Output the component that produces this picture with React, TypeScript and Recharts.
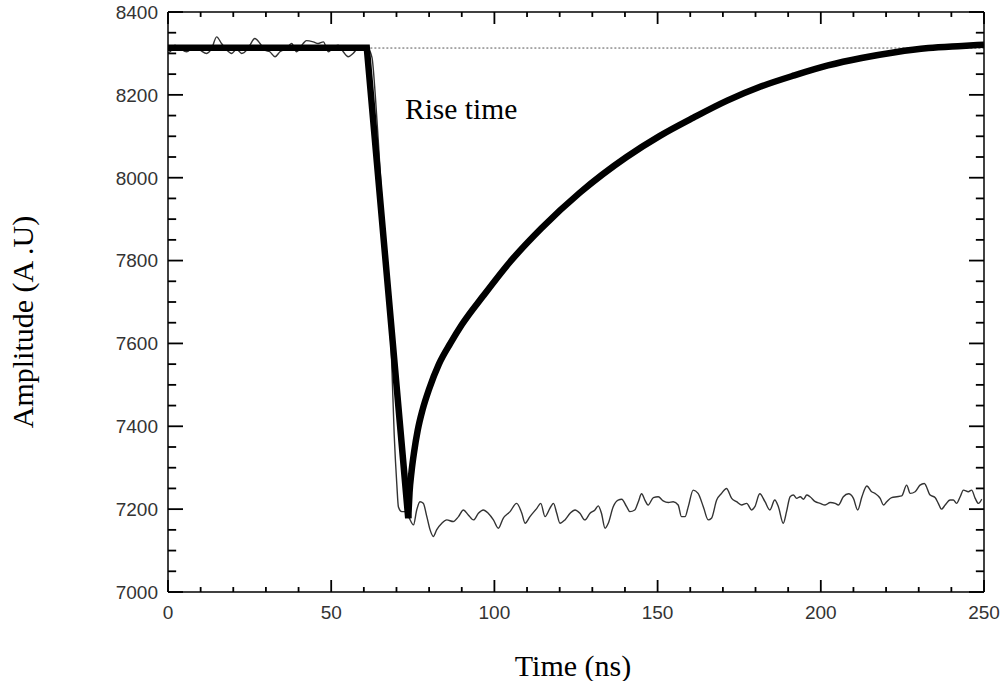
import React from "react";
import { LineChart, Line, XAxis, YAxis, ReferenceLine } from "recharts";

// measured trace (ns, A.U)
const sigTimes = [
  0, 1.1, 2.1, 3.7, 5.7, 7.8, 9.8, 11.8, 13.4, 14.9, 16.4, 18, 19.5, 21, 22.6, 24.1, 25.1, 26.6, 28.2, 29.7,
  31.2, 32.8, 34.3, 36.3, 37.9, 39.4, 41.4, 42.4, 44.5, 46, 47.6, 49.1, 50.6, 52.1, 53.7, 55.2, 56.7, 58.3, 59.8, 61.3,
  62.5, 63.5, 64.5, 65.5, 66.5, 67.5, 68.5, 69.3, 70.1, 70.6, 71.6, 72.6, 73.8, 75.2, 76.2, 77.2, 78.2, 79.3, 80.3, 81.3,
  82.3, 83.9, 85.4, 87.4, 89, 90.5, 92, 93.6, 95.1, 96.6, 98.1, 99.7, 101.2, 102.7, 104.8, 106.8, 108.4, 109.4, 110.9, 113,
  114.2, 115.5, 117, 118.1, 119.1, 120.1, 121.6, 123.2, 124.7, 126.2, 127.7, 129.3, 130.8, 131.8, 132.8, 133.9, 134.9, 136.4, 137.9, 139,
  140.5, 141.5, 143, 144.1, 145.1, 146.1, 147.1, 148.7, 150.2, 151.7, 153.3, 154.8, 156.3, 157.3, 158.4, 159.4, 160.9, 162.4, 164, 165.5,
  166.5, 168.1, 169.6, 171.1, 172.7, 174.2, 175.7, 177.3, 178.8, 179.8, 181.3, 182.9, 184.4, 185.9, 187, 188.5, 189.5, 190.6, 191.6, 192.6,
  193.7, 194.7, 195.7, 196.7, 198.3, 199.8, 201.3, 202.9, 204.4, 205.4, 206.9, 208.5, 210, 211.3, 212.6, 214.1, 215.6, 216.6, 218.2, 219.2,
  220.2, 221.7, 223.3, 224.8, 226.3, 227.4, 228.9, 230.4, 231.7, 233.5, 235, 236, 237, 238.1, 239.6, 240.6, 241.6, 242.7, 243.7, 245.2,
  246.2, 247.3, 248.3, 249.3,
];
const sigValues = [
  8300, 8308, 8320, 8312, 8304, 8314, 8308, 8300, 8312, 8340, 8324, 8308, 8300, 8310, 8300, 8308, 8320, 8336, 8324, 8308,
  8304, 8292, 8304, 8312, 8324, 8304, 8324, 8331, 8328, 8324, 8328, 8304, 8314, 8320, 8304, 8292, 8300, 8314, 8318, 8312,
  8290, 8200, 8080, 7950, 7830, 7700, 7560, 7380, 7260, 7205, 7194, 7194, 7180, 7162, 7198, 7218, 7214, 7182, 7150, 7134,
  7150, 7166, 7174, 7170, 7182, 7198, 7186, 7174, 7190, 7198, 7190, 7174, 7154, 7178, 7194, 7214, 7190, 7166, 7182, 7202,
  7214, 7182, 7202, 7214, 7190, 7166, 7174, 7190, 7198, 7190, 7174, 7190, 7198, 7208, 7190, 7154, 7166, 7206, 7222, 7224,
  7206, 7194, 7198, 7218, 7237, 7222, 7210, 7228, 7230, 7220, 7216, 7218, 7210, 7182, 7182, 7206, 7246, 7238, 7206, 7174,
  7178, 7222, 7238, 7250, 7226, 7218, 7210, 7214, 7198, 7206, 7237, 7218, 7198, 7222, 7206, 7166, 7194, 7230, 7234, 7226,
  7230, 7224, 7234, 7230, 7218, 7214, 7210, 7216, 7214, 7210, 7230, 7237, 7226, 7198, 7230, 7256, 7242, 7238, 7226, 7210,
  7218, 7228, 7230, 7232, 7258, 7238, 7242, 7258, 7262, 7234, 7228, 7214, 7200, 7210, 7222, 7222, 7214, 7230, 7246, 7242,
  7246, 7226, 7214, 7224,
];

// fitted model: flat baseline + linear fall, then recovery
const fitDropTimes = [0, 60.9, 73.6];
const fitDropValues = [8314, 8314, 7178];
const fitRiseTimes = [
  73.6, 74.0, 74.6, 75.4, 76.5, 78, 80, 83, 86.5, 90, 96.6, 104.7, 114.4, 126.2, 140.5, 150.7, 161, 171.3, 181.6,
  191.9, 202.2, 212.5, 222.8, 233, 243.3, 250,
];
const fitRiseValues = [
  7178, 7240, 7290, 7338, 7390, 7440, 7490, 7550, 7600, 7645, 7715, 7796, 7878, 7964, 8050, 8101, 8145, 8186, 8220,
  8247, 8271, 8289, 8303, 8313, 8318, 8321,
];

const baselineLevel = 8313;
const baselineStart = 62;

const xTicks = [0, 10, 20, 30, 40, 50, 60, 70, 80, 90, 100, 110, 120, 130, 140, 150, 160, 170, 180, 190, 200, 210, 220, 230, 240, 250];
const xLabelled = [0, 50, 100, 150, 200, 250];
const yTicks = [
  7000, 7050, 7100, 7150, 7200, 7250, 7300, 7350, 7400, 7450, 7500, 7550, 7600, 7650, 7700, 7750, 7800,
  7850, 7900, 7950, 8000, 8050, 8100, 8150, 8200, 8250, 8300, 8350, 8400,
];
const yLabelled = [7000, 7200, 7400, 7600, 7800, 8000, 8200, 8400];

const X_MIN = 0;
const X_MAX = 250;
const Y_MIN = 7000;
const Y_MAX = 8400;

// inward tick lengths, in data units (x ticks in A.U., y ticks in ns)
const xTickMajor = 29;
const xTickMinor = 12;
const yTickMajor = 4.6;
const yTickMinor = 2.5;

const signal = sigTimes.map((t, i) => ({ t, v: sigValues[i] }));
const fitDrop = fitDropTimes.map((t, i) => ({ t, v: fitDropValues[i] }));
const fitRise = fitRiseTimes.map((t, i) => ({ t, v: fitRiseValues[i] }));

const tickFont = { fontFamily: "'Liberation Sans', Arial, sans-serif", fontSize: 19, fill: "#333" };
const titleFont = { fontFamily: "'Liberation Serif', 'Times New Roman', serif", fontSize: 30, fill: "#000" };

function XLabel(props: any) {
  const { x, y, payload } = props;
  if (!xLabelled.includes(payload.value)) return <g />;
  return (
    <text x={x} y={y + 27} textAnchor="middle" {...tickFont}>
      {payload.value}
    </text>
  );
}

function YLabel(props: any) {
  const { x, y, payload } = props;
  if (!yLabelled.includes(payload.value)) return <g />;
  return (
    <text x={x - 10} y={y} dy="0.36em" textAnchor="end" {...tickFont}>
      {payload.value}
    </text>
  );
}

const axisLine = { stroke: "#000", strokeWidth: 1.5 };
const tickStroke = { stroke: "#000", strokeWidth: 1.8 };

// flat list of tick segments for the four sides
const tickSegments = [
  ...xTicks.map((t) => {
    const len = xLabelled.includes(t) ? xTickMajor : xTickMinor;
    return { id: `xb${t}`, a: { x: t, y: Y_MIN }, b: { x: t, y: Y_MIN + len } };
  }),
  ...xTicks.map((t) => {
    const len = xLabelled.includes(t) ? xTickMajor : xTickMinor;
    return { id: `xt${t}`, a: { x: t, y: Y_MAX }, b: { x: t, y: Y_MAX - len } };
  }),
  ...yTicks.map((v) => {
    const len = yLabelled.includes(v) ? yTickMajor : yTickMinor;
    return { id: `yl${v}`, a: { x: X_MIN, y: v }, b: { x: X_MIN + len, y: v } };
  }),
  ...yTicks.map((v) => {
    const len = yLabelled.includes(v) ? yTickMajor : yTickMinor;
    return { id: `yr${v}`, a: { x: X_MAX, y: v }, b: { x: X_MAX - len, y: v } };
  }),
];

export default function App() {
  return (
    <div style={{ position: "absolute", left: 0, top: 0, width: 1004, height: 681, background: "#fff" }}>
      <LineChart width={1004} height={681} margin={{ top: 0, right: 0, bottom: 0, left: 0 }}>
        <XAxis
          xAxisId="b"
          type="number"
          dataKey="t"
          domain={[X_MIN, X_MAX]}
          allowDataOverflow
          ticks={xTicks}
          interval={0}
          height={89}
          tickSize={0}
          tickMargin={0}
          tickLine={false}
          axisLine={axisLine}
          tick={<XLabel />}
          label={{
            content: () => (
              <text x={573} y={676} textAnchor="middle" {...titleFont}>
                Time (ns)
              </text>
            ),
          }}
        />
        <XAxis
          xAxisId="t"
          orientation="top"
          type="number"
          dataKey="t"
          domain={[X_MIN, X_MAX]}
          allowDataOverflow
          height={12}
          tick={false}
          tickLine={false}
          axisLine={axisLine}
        />
        <YAxis
          yAxisId="l"
          type="number"
          domain={[Y_MIN, Y_MAX]}
          allowDataOverflow
          ticks={yTicks}
          interval={0}
          width={168}
          tickSize={0}
          tickMargin={0}
          tickLine={false}
          axisLine={axisLine}
          tick={<YLabel />}
          label={{
            content: () => (
              <text transform="translate(33,322) rotate(-90)" textAnchor="middle" {...titleFont}>
                Amplitude (A .U)
              </text>
            ),
          }}
        />
        <YAxis
          yAxisId="r"
          orientation="right"
          type="number"
          domain={[Y_MIN, Y_MAX]}
          allowDataOverflow
          width={20}
          tick={false}
          tickLine={false}
          axisLine={axisLine}
        />

        {tickSegments.map((s) => (
          <ReferenceLine
            key={s.id}
            xAxisId="b"
            yAxisId="l"
            ifOverflow="visible"
            segment={[s.a, s.b]}
            {...tickStroke}
          />
        ))}

        <ReferenceLine
          xAxisId="b"
          yAxisId="l"
          segment={[
            { x: baselineStart, y: baselineLevel },
            { x: X_MAX, y: baselineLevel },
          ]}
          stroke="#555"
          strokeWidth={1}
          strokeDasharray="2 2"
        />
        <Line
          xAxisId="b"
          yAxisId="l"
          data={signal}
          dataKey="v"
          type="monotone"
          stroke="#333"
          strokeWidth={1.4}
          dot={false}
          isAnimationActive={false}
        />
        <Line
          xAxisId="b"
          yAxisId="l"
          data={fitDrop}
          dataKey="v"
          type="linear"
          stroke="#000"
          strokeWidth={6.5}
          dot={false}
          isAnimationActive={false}
        />
        <Line
          xAxisId="b"
          yAxisId="l"
          data={fitRise}
          dataKey="v"
          type="monotone"
          stroke="#000"
          strokeWidth={6.5}
          dot={false}
          isAnimationActive={false}
        />
        <text x={405} y={119} {...titleFont} fontSize={29.5}>
          Rise time
        </text>
      </LineChart>
    </div>
  );
}
